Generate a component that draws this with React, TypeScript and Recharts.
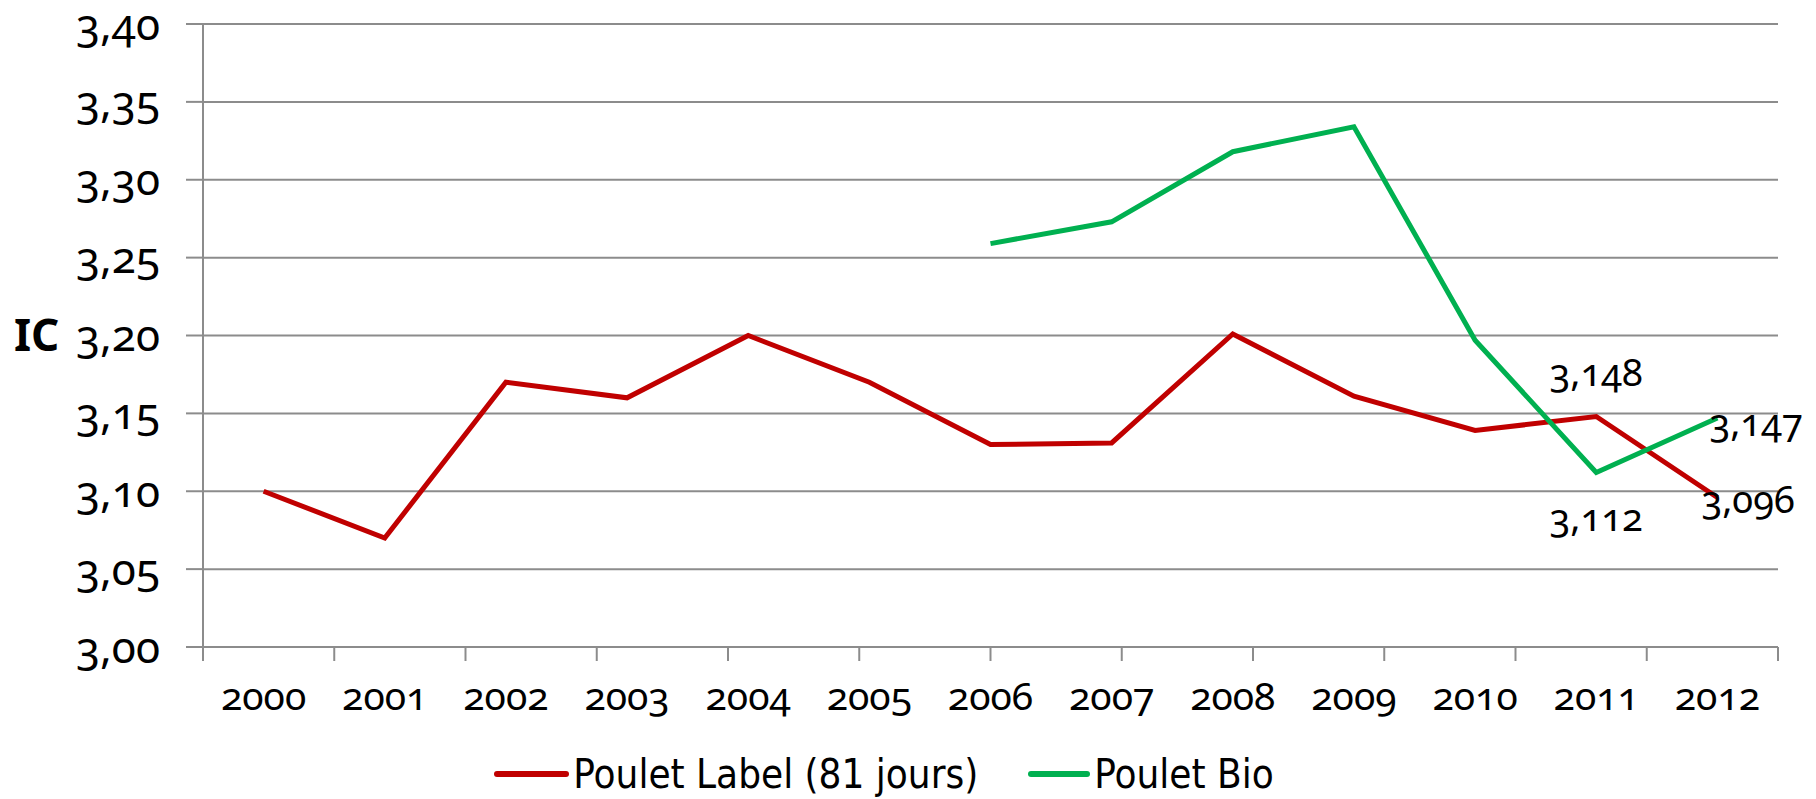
import React from 'react'
import { LineChart, Line, XAxis, YAxis, CartesianGrid, Legend, LabelList } from 'recharts'

const years = ['2000', '2001', '2002', '2003', '2004', '2005', '2006', '2007', '2008', '2009', '2010', '2011', '2012']
const labelValues = [3.1, 3.07, 3.17, 3.16, 3.2, 3.17, 3.13, 3.131, 3.201, 3.161, 3.139, 3.148, 3.096]
const bioValues = [null, null, null, null, null, null, 3.259, 3.273, 3.318, 3.334, 3.197, 3.112, 3.147]
const yTicks = [3.0, 3.05, 3.1, 3.15, 3.2, 3.25, 3.3, 3.35, 3.4]
const boundaryTicks = [0, 1, 2, 3, 4, 5, 6, 7, 8, 9, 10, 11, 12, 13]

// which points get a value label, and where
const labelTags = [{ index: 11, pos: 'top' }, { index: 12, pos: 'rightBelow' }]
const bioTags = [{ index: 11, pos: 'below' }, { index: 12, pos: 'right' }]

const data = years.map((year, i) => ({ year, label: labelValues[i], bio: bioValues[i] }))

const RED = '#C00000'
const GREEN = '#00B050'
const GRID = '#8C8C8C'
const FONT = '"Noto Sans", sans-serif'

const fmt = (v: number, d: number) => v.toFixed(d).replace('.', ',')

const makeTag = (tags: { index: number; pos: string }[]) => (props: any) => {
  const { x, y, value, index } = props
  const tag = tags.find((t) => t.index === index)
  if (!tag || value == null) return null
  let tx = x
  let ty = y
  let anchor: 'middle' | 'start' = 'middle'
  if (tag.pos === 'top') ty = y - 45
  if (tag.pos === 'below') ty = y + 43
  if (tag.pos === 'right') { tx = x - 8; ty = y + 3; anchor = 'start' }
  if (tag.pos === 'rightBelow') { tx = x - 16; ty = y + 1; anchor = 'start' }
  return (
    <text x={tx} y={ty} textAnchor={anchor} dominantBaseline="central" fontSize={38} fontFamily={FONT} fill="#000"
      style={{ fontVariantNumeric: 'oldstyle-nums' }}>
      {fmt(Number(value), 3)}
    </text>
  )
}

const LegendContent = () => (
  <div style={{ height: 50, display: 'flex', alignItems: 'center', justifyContent: 'center', marginLeft: -10,
    fontFamily: '"DejaVu Sans Condensed", "Liberation Sans", sans-serif', fontSize: 40, color: '#000' }}>
    <div style={{ display: 'flex', alignItems: 'center', marginRight: 50 }}>
      <div style={{ width: 75, height: 6, borderRadius: 3, background: RED, marginRight: 4 }} />
      <span>Poulet Label (81 jours)</span>
    </div>
    <div style={{ display: 'flex', alignItems: 'center' }}>
      <div style={{ width: 62, height: 6, borderRadius: 3, background: GREEN, marginRight: 4 }} />
      <span>Poulet Bio</span>
    </div>
  </div>
)

export default function App() {
  return (
    <div style={{ position: 'absolute', left: 0, top: 0, background: '#fff', fontFamily: FONT }}>
      <LineChart width={1816} height={799} data={data} margin={{ top: 24, right: 38, bottom: 0, left: 0 }}>
        <CartesianGrid vertical={false} stroke={GRID} strokeWidth={2} />
        {/* tick marks between the years, sits right under the plot */}
        <XAxis
          xAxisId={0}
          type="number"
          domain={[0, 13]}
          allowDataOverflow
          ticks={boundaryTicks}
          interval={0}
          tick={() => <g />}
          tickSize={14}
          axisLine={false}
          stroke={GRID}
          strokeWidth={2}
          height={1}
        />
        <XAxis
          xAxisId={1}
          dataKey="year"
          padding={{ left: 60.6, right: 60.6 }}
          tickLine={false}
          axisLine={false}
          height={101}
          tickMargin={28}
          tick={{ fontSize: 39, fill: '#000', fontFamily: FONT, style: { fontVariantNumeric: 'oldstyle-nums' } }}
        />
        <YAxis
          width={203}
          domain={[3.0, 3.4]}
          ticks={yTicks}
          interval={0}
          tickFormatter={(v) => fmt(v, 2)}
          tickSize={17}
          tickMargin={26}
          stroke={GRID}
          strokeWidth={2}
          tick={{ fontSize: 44, fill: '#000', fontFamily: FONT, style: { fontVariantNumeric: 'oldstyle-nums' } }}
          label={{ value: 'IC', position: 'insideLeft', offset: 14, fontSize: 44, fontWeight: 700, fill: '#000' }}
        />
        <Legend verticalAlign="bottom" content={<LegendContent />} />
        <Line xAxisId={1} dataKey="label" name="Poulet Label (81 jours)" stroke={RED} strokeWidth={5} dot={false} isAnimationActive={false}>
          <LabelList dataKey="label" content={makeTag(labelTags)} />
        </Line>
        <Line xAxisId={1} dataKey="bio" name="Poulet Bio" stroke={GREEN} strokeWidth={5} dot={false} isAnimationActive={false}>
          <LabelList dataKey="bio" content={makeTag(bioTags)} />
        </Line>
      </LineChart>
    </div>
  )
}
